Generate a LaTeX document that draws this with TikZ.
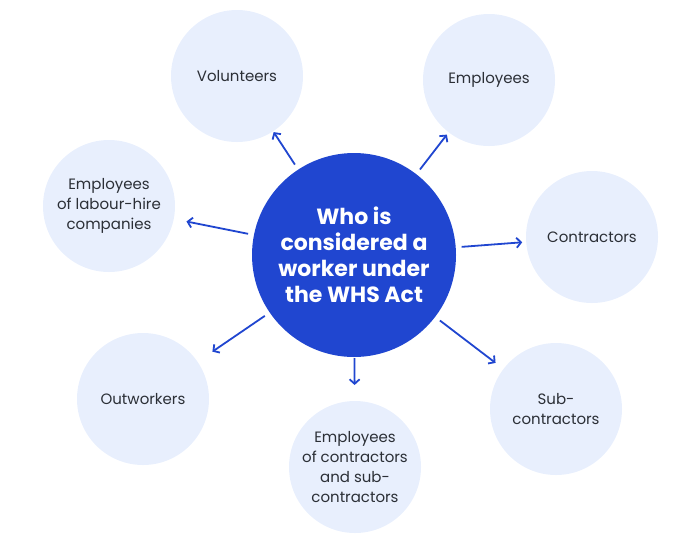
\documentclass[tikz,border=0pt]{standalone}
\usepackage{fontspec}
\setmainfont{Poppins}
\usepackage{tikz}
\usetikzlibrary{arrows.meta}
\usepackage{xcolor}
\definecolor{whoblue}{HTML}{2046D0}
\definecolor{paleblue}{HTML}{E8EFFD}
\definecolor{inktext}{HTML}{2B2F36}

\tikzset{
    hub/.style={circle, fill=whoblue, minimum size=204pt, inner sep=0pt, outer sep=0pt,
        text=white, font=\fontsize{22}{26}\selectfont\bfseries, align=center},
    group/.style={circle, fill=paleblue, minimum size=132pt, inner sep=0pt, outer sep=0pt,
        text=inktext, font=\fontsize{15}{20}\selectfont, align=center},
    arr/.style={draw=whoblue, line width=1.8pt, shorten <=6pt,
        -{Straight Barb[length=4.5pt,width=10pt,line width=1.8pt]}}
}

\begin{document}
\begin{tikzpicture}[x=1pt,y=-1pt]
\useasboundingbox (0,0) rectangle (700,539);

\node[hub] (who) at (354,255) {Who is\\considered a\\worker under\\the WHS Act};

    \node[group] (vol) at (237,76) {Volunteers};
    \node[group] (emp) at (489,80) {Employees};
    \node[group] (lab) at (109,206) {Employees\\of labour-hire\\companies};
    \node[group] (con) at (592,237) {Contractors};
    \node[group] (out) at (143,399) {Outworkers};
    \node[group] (eoc) at (355,467) {Employees\\of contractors\\and sub-\\contractors};
    \node[group] (sub) at (556,409) {Sub-\\contractors};

    % arrows out of the hub
    \draw[arr, shorten >=1pt] (who) -- (vol);
    \draw[arr, shorten >=3pt] (who) -- (emp);
    \draw[arr, shorten >=13pt] (who) -- (lab);
    \draw[arr, shorten >=4pt] (who) -- (con);
    \draw[arr, shorten >=18pt] (who) -- (out);
    \draw[arr, shorten <=1pt, shorten >=16pt] (who) -- (eoc);
    \draw[arr, shorten >=10pt] (who) -- (sub);

\end{tikzpicture}
\end{document}
